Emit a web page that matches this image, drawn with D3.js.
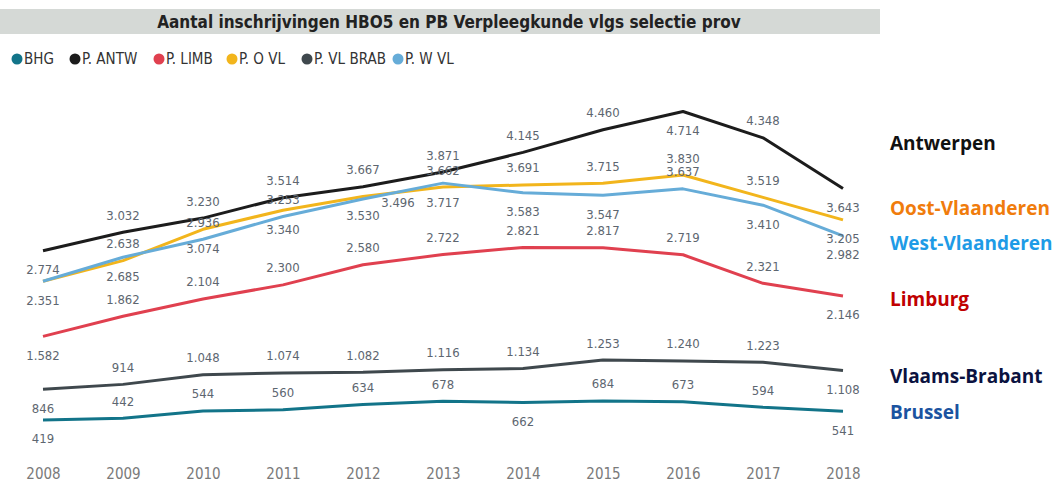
<!DOCTYPE html>
<html>
<head>
<meta charset="utf-8">
<script src="https://cdn.jsdelivr.net/npm/d3@7"></script>
<style>
  body { margin: 0; background: #fff; }
  svg { display: block; }
  .val { font-family: "DejaVu Sans Condensed", "DejaVu Sans", sans-serif; font-stretch: condensed; font-size: 13px; fill: #5d6670; }
  .tick text { font-family: "DejaVu Sans Condensed", "DejaVu Sans", sans-serif; font-stretch: condensed; font-size: 15px; fill: #7a7a7a; }
  .legend text { font-family: "DejaVu Sans Condensed", "DejaVu Sans", sans-serif; font-stretch: condensed; font-size: 15px; fill: #333; }
  .side { font-family: "Open Sans", sans-serif; font-weight: 700; font-size: 19px; }
</style>
</head>
<body>
<script>
// Width and height
var w = 1063;
var h = 484;

// data
var years = [2008, 2009, 2010, 2011, 2012, 2013, 2014, 2015, 2016, 2017, 2018];
var seriesNames = ["BHG", "P. ANTW", "P. LIMB", "P. O VL", "P. VL BRAB", "P. W VL"];
var bhg    = [419, 442, 544, 560, 634, 678, 662, 684, 673, 594, 541];
var antw   = [2774, 3032, 3230, 3514, 3667, 3871, 4145, 4460, 4714, 4348, 3643];
var limb   = [1582, 1862, 2104, 2300, 2580, 2722, 2821, 2817, 2719, 2321, 2146];
var oVl    = [2351, 2638, 3074, 3340, 3530, 3662, 3691, 3715, 3830, 3519, 3205];
var vlBrab = [846, 914, 1048, 1074, 1082, 1116, 1134, 1253, 1240, 1223, 1108];
var wVl    = [2351, 2685, 2936, 3253, 3496, 3717, 3583, 3547, 3637, 3410, 2982];
var sideNames = ["Antwerpen", "Oost-Vlaanderen", "West-Vlaanderen", "Limburg", "Vlaams-Brabant", "Brussel"];

// label placement per series: A above, B below, R right, H hidden
var placeBhg = "BAAAAABAAAB";
var placeAntw = "BAAAAAAABAB";
var placeLimb = "BAAAAAAAAAB";
var placeOVl = "HABBBAAAAAB";
var placeVlBrab = "BAAAAAAAAAB";
var placeWVl = "BBAARBBBABB";

var colors = ["#127489", "#1c1c1c", "#e0404f", "#f2b51c", "#3f484d", "#66acd8"];
var sideColors = ["#111111", "#f07c0c", "#1e9be6", "#c00000", "#0b1240", "#1b53a0"];

var series = [
  { name: seriesNames[0], values: bhg, place: placeBhg, color: colors[0] },
  { name: seriesNames[1], values: antw, place: placeAntw, color: colors[1] },
  { name: seriesNames[2], values: limb, place: placeLimb, color: colors[2] },
  { name: seriesNames[3], values: oVl, place: placeOVl, color: colors[3] },
  { name: seriesNames[4], values: vlBrab, place: placeVlBrab, color: colors[4] },
  { name: seriesNames[5], values: wVl, place: placeWVl, color: colors[5] }
];

var nl = d3.formatLocale({ decimal: ",", thousands: ".", grouping: [3], currency: ["€", ""] });
var fmt = nl.format(",d");

var svg = d3.select("body").append("svg")
  .attr("width", w)
  .attr("height", h);

// title banner
svg.append("rect")
  .attr("x", 0).attr("y", 9)
  .attr("width", 880).attr("height", 25)
  .attr("fill", "#d5d9d6");
svg.append("text")
  .attr("x", 449).attr("y", 22)
  .attr("text-anchor", "middle")
  .attr("dominant-baseline", "central")
  .style("font-family", "'DejaVu Sans Condensed', 'DejaVu Sans', sans-serif")
  .style("font-stretch", "condensed")
  .style("font-size", "17px")
  .style("font-weight", "700")
  .style("fill", "#222")
  .text("Aantal inschrijvingen HBO5 en PB Verpleegkunde vlgs selectie prov");

// legend
var legendX = [17, 75, 159, 232, 307, 398];
var legend = svg.append("g").attr("class", "legend");
series.forEach(function(s, i) {
  legend.append("circle")
    .attr("cx", legendX[i]).attr("cy", 59).attr("r", 5.5)
    .attr("fill", s.color);
  legend.append("text")
    .attr("x", legendX[i] + 7).attr("y", 59)
    .attr("dominant-baseline", "central")
    .text(s.name);
});

// scales
var xScale = d3.scalePoint()
  .domain(years)
  .range([43, 843]);

var yScale = d3.scaleLinear()
  .domain([0, 5000])
  .range([450, 91]);

var xAxis = d3.axisBottom(xScale).tickSize(0).tickPadding(0);
svg.append("g")
  .attr("transform", "translate(0,468)")
  .call(xAxis)
  .call(function(g) { g.select(".domain").remove(); });

var line = d3.line()
  .x(function(d, i) { return xScale(years[i]); })
  .y(function(d) { return yScale(d); });

series.forEach(function(s) {
  svg.append("path")
    .datum(s.values)
    .attr("fill", "none")
    .attr("stroke", s.color)
    .attr("stroke-width", 3)
    .attr("stroke-linejoin", "round")
    .attr("d", line);
});

// value labels
series.forEach(function(s) {
  svg.append("g").selectAll("text")
    .data(s.values)
    .join("text")
    .attr("class", "val")
    .attr("text-anchor", "middle")
    .attr("dominant-baseline", "central")
    .attr("x", function(d, i) { return xScale(years[i]) + (s.place[i] === "R" ? 35 : 0); })
    .attr("y", function(d, i) {
      var p = s.place[i];
      var off = p === "A" ? -17 : (p === "B" ? 19 : 4);
      return yScale(d) + off;
    })
    .style("display", function(d, i) { return s.place[i] === "H" ? "none" : null; })
    .text(function(d) { return fmt(d); });
});

// right-side province names
var sideY = [143, 208, 243, 299, 376, 412];
sideNames.forEach(function(n, i) {
  svg.append("text")
    .attr("class", "side")
    .attr("x", 890).attr("y", sideY[i])
    .attr("dominant-baseline", "central")
    .style("fill", sideColors[i])
    .text(n);
});
</script>
</body>
</html>
